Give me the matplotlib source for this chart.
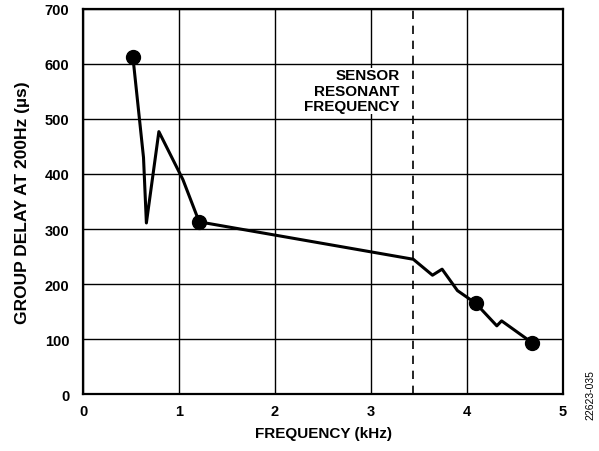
import matplotlib
matplotlib.use("Agg")
import matplotlib.pyplot as plt

plt.rcParams['font.family'] = ['Liberation Sans', 'DejaVu Sans']

freq_khz = [0.52, 0.63, 0.66, 0.79, 1.04, 1.21, 3.44, 3.64, 3.74, 3.90, 4.09, 4.31, 4.36, 4.68]
delay_us = [612, 430, 311, 477, 390, 313, 245, 216, 227, 188, 165, 124, 133, 93]

marker_freq = [0.52, 1.21, 4.09, 4.68]
marker_delay = [612, 313, 165, 93]

resonance_khz = 3.44

x_ticks = [0, 1, 2, 3, 4, 5]
y_ticks = [0, 100, 200, 300, 400, 500, 600, 700]

fig = plt.figure(figsize=(5.99, 4.52), dpi=100)
ax = fig.add_axes([0.1386, 0.126, 0.8014, 0.852])

ax.plot(freq_khz, delay_us, color='black', linewidth=2.2, zorder=3)
ax.plot(marker_freq, marker_delay, 'o', color='black', markersize=10, zorder=4)

ax.axvline(resonance_khz, color='black', linestyle=(0, (5, 4)), linewidth=1.2, zorder=2)
ax.text(3.30, 592, 'SENSOR\nRESONANT\nFREQUENCY', ha='right', va='top',
        fontsize=11, fontweight='bold', linespacing=1.12,
        bbox=dict(facecolor='white', edgecolor='none', pad=0.5), zorder=3)

ax.set_xlim(0, 5)
ax.set_ylim(0, 700)
ax.set_xticks(x_ticks)
ax.set_yticks(y_ticks)
ax.grid(True, color='black', linewidth=1.0)
ax.tick_params(length=0, labelsize=10.5)
ax.tick_params(axis='x', pad=7)
ax.tick_params(axis='y', pad=10)
for lbl in ax.get_xticklabels() + ax.get_yticklabels():
    lbl.set_fontweight('bold')
for sp in ax.spines.values():
    sp.set_linewidth(1.6)

ax.set_xlabel('FREQUENCY (kHz)', fontsize=11, fontweight='bold', labelpad=6)
ax.set_ylabel('GROUP DELAY AT 200Hz (µs)', fontsize=12.5, fontweight='bold', labelpad=10)

fig.text(0.985, 0.125, '22623-035', rotation=90, ha='center', va='center', fontsize=7.5)

fig.savefig('out.png', dpi=100)
